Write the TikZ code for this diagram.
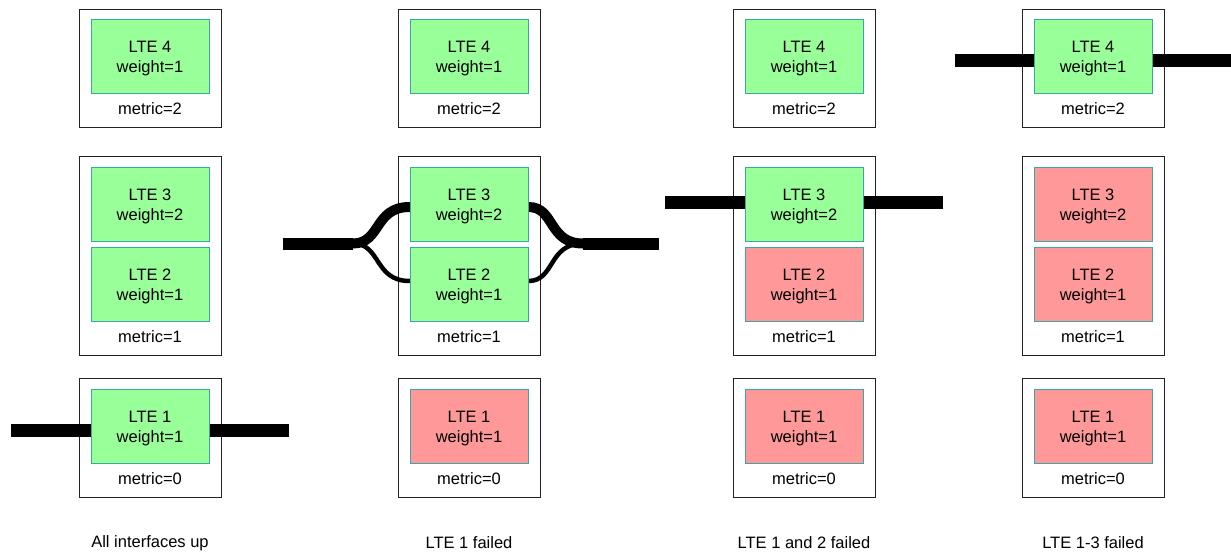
\documentclass[tikz,border=0pt]{standalone}
\usepackage{fontspec}
\setmainfont{Liberation Sans}
\pgfdeclarelayer{back}
\pgfdeclarelayer{mid}
\pgfsetlayers{back,mid,main}
\definecolor{upfill}{HTML}{99FF99}
\definecolor{downfill}{HTML}{FF9999}
\definecolor{edge}{HTML}{3AA8A0}
\definecolor{boxline}{HTML}{222222}
\newcommand\ltetxt[2]{\parbox[c][74pt][c]{118pt}{\vspace*{5pt}\centering #1\\#2\par}}
\begin{document}
\begin{tikzpicture}[x=1pt,y=-1pt,
  font=\fontsize{16.5}{20}\selectfont,
  outer/.style={draw=boxline,line width=0.9pt,minimum width=142pt,inner sep=0pt},
  lte/.style={draw=edge,line width=1pt,minimum width=118pt,minimum height=74pt,inner sep=0pt},
  up/.style={lte,fill=upfill},
  down/.style={lte,fill=downfill},
  lbl/.style={inner sep=0pt,anchor=center},
  bar/.style={line width=13pt,black},
]
\useasboundingbox (0,0) rectangle (1231,552);
\foreach \i/\x/\ca/\cb/\cc/\cap in {1/150/up/up/up/All interfaces up,2/469/down/up/up/LTE 1 failed,3/804/down/down/up/LTE 1 and 2 failed,4/1093/down/down/down/LTE 1-3 failed}{
  \begin{pgfonlayer}{back}
    \node[outer,minimum height=118pt] (o\i a) at (\x,68) {};
    \node[outer,minimum height=199pt] (o\i b) at (\x,255.5) {};
    \node[outer,minimum height=119pt] (o\i c) at (\x,437.5) {};
  \end{pgfonlayer}
  \node[up] (c\i l4) at (\x,56) {\ltetxt{LTE 4}{weight=1}};
  \node[lbl] (m\i a) at (\x,109) {metric=2};
  \node[\cc] (c\i l3) at (\x,204) {\ltetxt{LTE 3}{weight=2}};
  \node[\cb] (c\i l2) at (\x,284) {\ltetxt{LTE 2}{weight=1}};
  \node[lbl] (m\i b) at (\x,337) {metric=1};
  \node[\ca] (c\i l1) at (\x,426) {\ltetxt{LTE 1}{weight=1}};
  \node[lbl] (m\i c) at (\x,479) {metric=0};
  \node[lbl] (cap\i) at (\x,543) {\cap};
}
% connectors
\coordinate (a1) at (11,430);
\coordinate (b1) at (289,430);
\coordinate (a2) at (283,243.5);
\coordinate (j2) at (353,243.5);
\coordinate (k2) at (583,243.5);
\coordinate (b2) at (659,243.5);
\coordinate (a3) at (665,202.5);
\coordinate (b3) at (943,202.5);
\coordinate (a4) at (955,60);
\coordinate (b4) at (1231,60);
\begin{pgfonlayer}{mid}
  \draw[bar] (a1) -- (a1 -| c1l1.west);
  \draw[bar] (c1l1.east |- b1) -- (b1);
  \draw[bar] (a3) -- (a3 -| c3l3.west);
  \draw[bar] (c3l3.east |- b3) -- (b3);
  \draw[bar] (a4) -- (a4 -| c4l4.west);
  \draw[bar] (c4l4.east |- b4) -- (b4);
  % column 2: split over LTE 3 and LTE 2
  \draw[line width=12pt] (a2) -- (j2);
  \draw[line width=12pt] (k2) -- (b2);
  \draw[line width=10pt,line cap=round] (j2) .. controls (381,243.5) and (374,207) .. ([yshift=-3pt]c2l3.west);
  \draw[line width=4.5pt,line cap=round] (j2) .. controls (381,243.5) and (374,281) .. ([yshift=3pt]c2l2.west);
  \draw[line width=10pt,line cap=round] ([yshift=-3pt]c2l3.east) .. controls (555,207) and (548,243.5) .. (k2);
  \draw[line width=4.5pt,line cap=round] ([yshift=3pt]c2l2.east) .. controls (555,281) and (548,243.5) .. (k2);
\end{pgfonlayer}
\end{tikzpicture}
\end{document}
